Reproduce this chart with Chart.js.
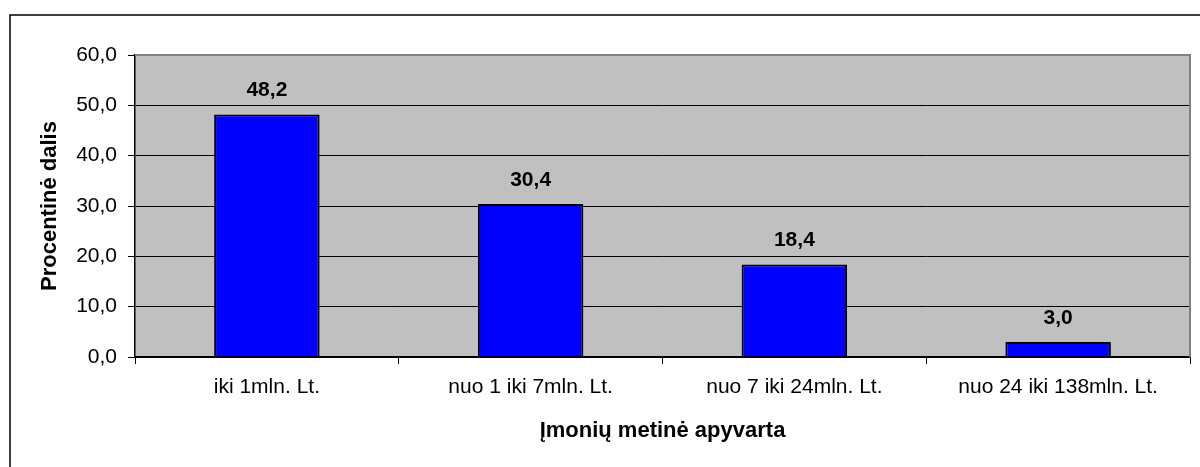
<!DOCTYPE html>
<html>
<head>
<meta charset="utf-8">
<script src="https://cdn.jsdelivr.net/npm/chart.js@4/dist/chart.umd.min.js"></script>
<style>
  html, body { margin: 0; padding: 0; background: #fff; }
  #chart { display: block; }
</style>
</head>
<body>
<canvas id="chart" width="1200" height="467"></canvas>
<script>
const categories = ['iki 1mln. Lt.', 'nuo 1 iki 7mln. Lt.', 'nuo 7 iki 24mln. Lt.', 'nuo 24 iki 138mln. Lt.'];
const shares = [48.2, 30.4, 18.4, 3.0];
const yTicks = [0, 10, 20, 30, 40, 50, 60];

const FONT = 'Arial, "Liberation Sans", sans-serif';
const comma = v => Number(v).toFixed(1).replace('.', ',');

// frame, grey plot background and value labels
const excelLook = {
  id: 'excelLook',
  beforeDraw(chart) {
    const { ctx, chartArea: a } = chart;
    ctx.save();
    ctx.fillStyle = '#fff';
    ctx.fillRect(0, 0, chart.width, chart.height);
    ctx.strokeStyle = '#000';
    ctx.lineWidth = 1.5;
    ctx.strokeRect(10, 15, 1400, 700);
    ctx.fillStyle = '#c0c0c0';
    ctx.fillRect(a.left, a.top, a.right - a.left, a.bottom - a.top);
    ctx.restore();
  },
  beforeDatasetsDraw(chart) {
    const { ctx, chartArea: a } = chart;
    ctx.save();
    ctx.strokeStyle = '#808080';
    ctx.lineWidth = 2;
    ctx.beginPath();
    ctx.moveTo(a.left, a.top);
    ctx.lineTo(a.right, a.top);
    ctx.lineTo(a.right, a.bottom);
    ctx.stroke();
    ctx.restore();
  },
  afterDatasetsDraw(chart) {
    const { ctx } = chart;
    const meta = chart.getDatasetMeta(0);
    ctx.save();
    ctx.fillStyle = '#000';
    ctx.font = 'bold 21px ' + FONT;
    ctx.textAlign = 'center';
    ctx.textBaseline = 'alphabetic';
    meta.data.forEach((bar, i) => {
      ctx.fillText(comma(shares[i]), bar.x, bar.y - 18);
    });
    ctx.restore();
  }
};

new Chart(document.getElementById('chart'), {
  type: 'bar',
  data: {
    labels: categories,
    datasets: [{
      data: shares,
      backgroundColor: '#0000ff',
      borderColor: '#000',
      borderWidth: 2,
      barPercentage: 0.4,
      categoryPercentage: 1
    }]
  },
  options: {
    responsive: false,
    animation: false,
    devicePixelRatio: 1,
    layout: { padding: { left: 37, right: 10, top: 55, bottom: 23 } },
    plugins: {
      legend: { display: false },
      tooltip: { enabled: false }
    },
    scales: {
      x: {
        offset: true,
        grid: { display: true, drawOnChartArea: false, drawTicks: true, tickLength: 7, color: '#000', offset: true },
        border: { display: true, color: '#000', width: 1.5 },
        ticks: { color: '#000', padding: 11, font: { family: FONT, size: 21 }, maxRotation: 0 },
        title: { display: true, text: 'Įmonių metinė apyvarta', color: '#000', padding: 0, font: { family: FONT, size: 22, weight: 'bold' } },
        afterFit(scale) { scale.height = 87; }
      },
      y: {
        min: yTicks[0],
        max: yTicks[yTicks.length - 1],
        afterBuildTicks(scale) { scale.ticks = yTicks.map(v => ({ value: v })); },
        grid: { color: '#000', lineWidth: 1, tickLength: 7 },
        border: { display: true, color: '#000', width: 1.5 },
        ticks: { color: '#000', padding: 11, font: { family: FONT, size: 21 }, callback: v => comma(v) },
        title: { display: true, text: 'Procentinė dalis', color: '#000', padding: 0, font: { family: FONT, size: 22, weight: 'bold' } },
        afterFit(scale) { scale.width = 98; }
      }
    }
  },
  plugins: [excelLook]
});
</script>
</body>
</html>
